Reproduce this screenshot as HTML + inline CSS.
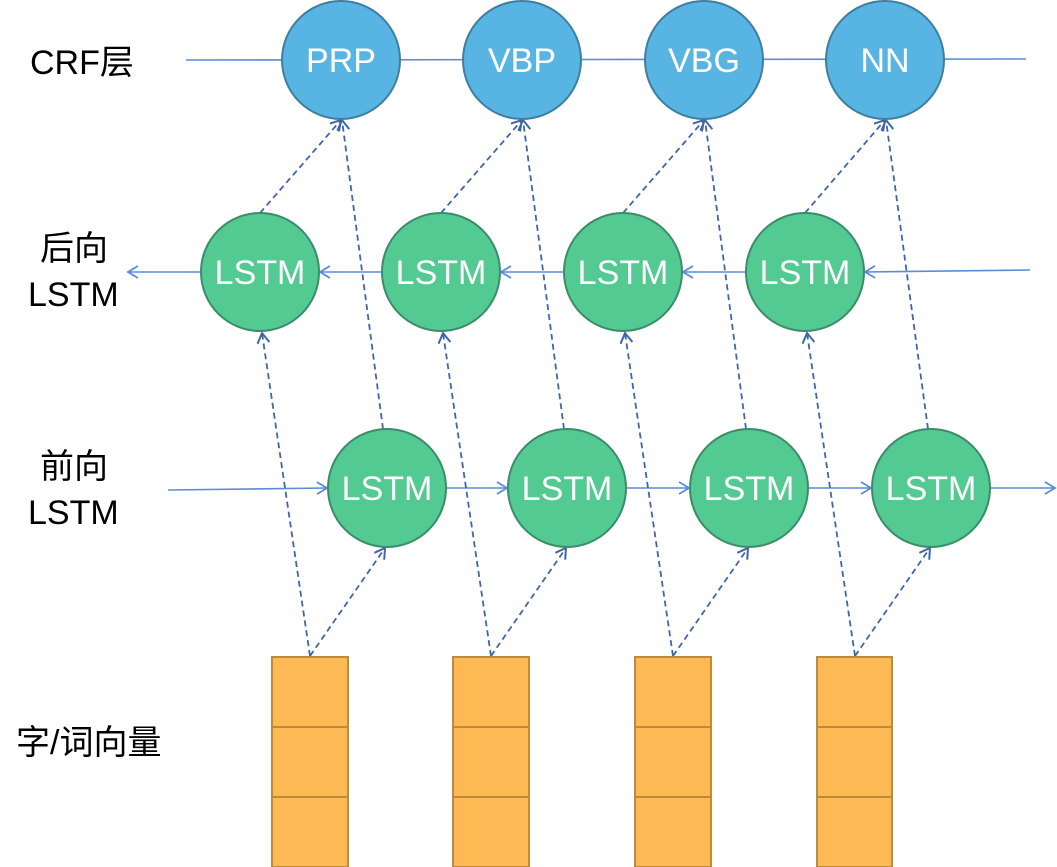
<!DOCTYPE html>
<html><head><meta charset="utf-8"><style>
body{margin:0;background:#fff;}
svg{display:block;}
text{font-family:"Liberation Sans","Noto Sans CJK SC",sans-serif;}
</style></head><body>
<svg width="1057" height="867" viewBox="0 0 1057 867">
<defs>
<marker id="a" markerWidth="14" markerHeight="14" refX="11" refY="7" orient="auto" markerUnits="userSpaceOnUse">
<path d="M1,1 L11,7 L1,13" fill="none" stroke="#5b8bd9" stroke-width="1.8"/></marker>
<marker id="d" markerWidth="14" markerHeight="14" refX="11" refY="7" orient="auto" markerUnits="userSpaceOnUse">
<path d="M1,1 L11,7 L1,13" fill="none" stroke="#3f67a8" stroke-width="2"/></marker>
</defs>
<g font-size="34" fill="#000">
<text x="30" y="74">CRF层</text>
<text x="40" y="260">后向</text>
<text x="28" y="306">LSTM</text>
<text x="40" y="478">前向</text>
<text x="28" y="524">LSTM</text>
<text x="16" y="754">字/词向量</text>
</g>
<!-- CRF line -->
<line x1="186" y1="60" x2="1026" y2="59" stroke="#5b8bd9" stroke-width="1.6"/>
<!-- backward arrows -->
<g stroke="#5b8bd9" stroke-width="1.6" marker-end="url(#a)">
<line x1="1030" y1="270" x2="865" y2="272"/>
<line x1="746" y1="272" x2="683" y2="272"/>
<line x1="564" y1="272" x2="501" y2="272"/>
<line x1="382" y1="272" x2="320" y2="272"/>
<line x1="201" y1="272" x2="128" y2="272"/>
<line x1="168" y1="490" x2="327" y2="488"/>
<line x1="446" y1="488" x2="507" y2="488"/>
<line x1="626" y1="488" x2="689" y2="488"/>
<line x1="808" y1="488" x2="871" y2="488"/>
<line x1="990" y1="488" x2="1055" y2="488"/>
</g>
<!-- dashed -->
<g stroke="#3f67a8" stroke-width="1.8" stroke-dasharray="6,4" marker-end="url(#d)" fill="none">
<line x1="310" y1="656" x2="262" y2="333"/>
<line x1="310" y1="656" x2="385" y2="548"/>
<line x1="260" y1="213" x2="341" y2="120"/>
<line x1="383" y1="429" x2="342" y2="120"/>
<line x1="491" y1="656" x2="443" y2="333"/>
<line x1="491" y1="656" x2="566" y2="548"/>
<line x1="441" y1="213" x2="522" y2="120"/>
<line x1="564" y1="429" x2="523" y2="120"/>
<line x1="673" y1="656" x2="625" y2="333"/>
<line x1="673" y1="656" x2="748" y2="548"/>
<line x1="623" y1="213" x2="704" y2="120"/>
<line x1="746" y1="429" x2="705" y2="120"/>
<line x1="855" y1="656" x2="807" y2="333"/>
<line x1="855" y1="656" x2="930" y2="548"/>
<line x1="805" y1="213" x2="885" y2="120"/>
<line x1="928" y1="429" x2="886" y2="120"/>
</g>
<!-- CRF circles -->
<g fill="#57b4e3" stroke="#3e7fa0" stroke-width="2">
<circle cx="341" cy="60" r="59"/><circle cx="522" cy="60" r="59"/>
<circle cx="704" cy="60" r="59"/><circle cx="885" cy="60" r="59"/>
</g>
<g fill="#54ca93" stroke="#3a8d68" stroke-width="2">
<circle cx="260" cy="272" r="59"/><circle cx="441" cy="272" r="59"/>
<circle cx="623" cy="272" r="59"/><circle cx="805" cy="272" r="59"/>
<circle cx="387" cy="488" r="59"/><circle cx="567" cy="488" r="59"/>
<circle cx="749" cy="488" r="59"/><circle cx="931" cy="488" r="59"/>
</g>
<g fill="#fff" font-size="34" text-anchor="middle">
<text x="341" y="72">PRP</text><text x="522" y="72">VBP</text>
<text x="704" y="72">VBG</text><text x="885" y="72">NN</text>
<text x="260" y="284">LSTM</text><text x="441" y="284">LSTM</text>
<text x="623" y="284">LSTM</text><text x="805" y="284">LSTM</text>
<text x="387" y="500">LSTM</text><text x="567" y="500">LSTM</text>
<text x="749" y="500">LSTM</text><text x="931" y="500">LSTM</text>
</g>
<!-- boxes -->
<g fill="#fdb954" stroke="#c08a3c" stroke-width="2">
<rect x="272" y="657" width="76" height="70"/><rect x="272" y="727" width="76" height="70"/><rect x="272" y="797" width="76" height="70"/>
<rect x="453" y="657" width="76" height="70"/><rect x="453" y="727" width="76" height="70"/><rect x="453" y="797" width="76" height="70"/>
<rect x="635" y="657" width="76" height="70"/><rect x="635" y="727" width="76" height="70"/><rect x="635" y="797" width="76" height="70"/>
<rect x="817" y="657" width="75" height="70"/><rect x="817" y="727" width="75" height="70"/><rect x="817" y="797" width="75" height="70"/>
</g>
</svg>
</body></html>
